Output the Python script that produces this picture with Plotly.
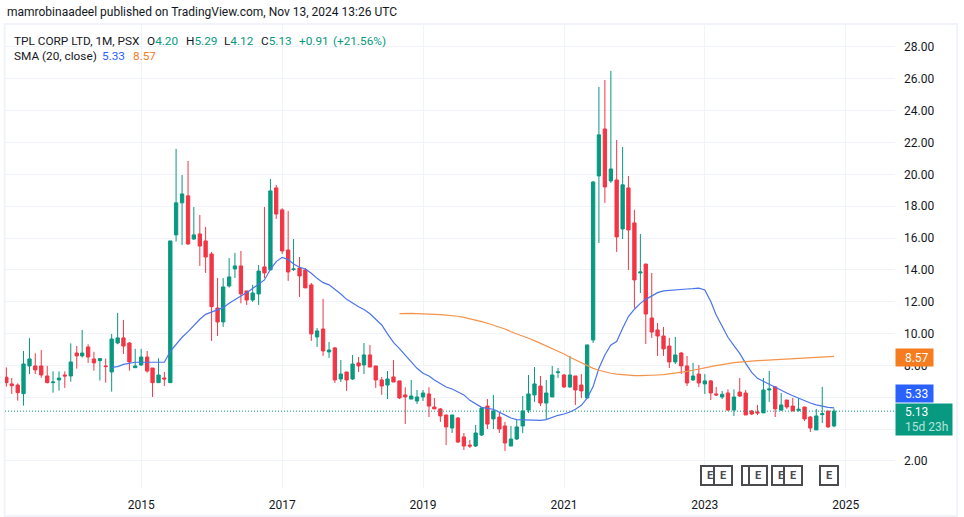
import pandas as pd
import plotly.graph_objects as go

GREEN = "#089981"
RED = "#F23645"
BLUE = "#2962FF"
ORANGE = "#F57C1F"
DARK = "#131722"
GRID = "#F0F3FA"
FONT = "Roboto"

first_month = "2013-02-01"

open_prices = [
    7.26, 6.84, 6.77, 6.23, 7.97, 7.97, 7.97, 7.34, 6.92, 7.09,
    7.40, 7.34, 8.78, 8.60, 9.16, 8.41, 8.30, 7.97, 7.59, 9.41,
    9.73, 9.41, 7.86, 8.03, 8.53, 7.84, 6.92, 7.21, 6.92, 16.20,
    18.21, 18.65, 15.94, 16.26, 15.82, 15.00, 11.61, 10.73, 12.99, 14.06,
    14.25, 12.68, 12.11, 12.49, 14.19, 14.00, 19.15, 17.77, 15.25, 14.02,
    14.12, 14.00, 13.06, 9.79, 10.29, 8.85, 9.10, 7.15, 7.59, 7.15,
    8.16, 8.03, 8.66, 7.97, 7.09, 6.77, 7.28, 7.03, 6.15, 5.89,
    5.77, 6.02, 6.21, 5.39, 5.27, 4.89, 4.07, 4.70, 3.51, 3.00,
    2.94, 3.63, 5.45, 4.64, 4.76, 4.20, 2.94, 3.38, 4.20, 5.20,
    6.15, 6.71, 5.64, 6.02, 7.55, 7.40, 6.65, 7.34, 6.77, 5.96,
    9.60, 19.90, 22.85, 19.59, 19.65, 16.57, 19.15, 16.95, 13.81, 14.37,
    10.98, 10.23, 9.85, 9.22, 8.22, 8.78, 7.97, 7.09, 7.46, 6.84,
    7.03, 6.21, 6.02, 6.27, 5.20, 6.33, 6.27, 5.14, 5.08, 5.02,
    6.46, 6.65, 5.20, 5.83, 5.45, 5.18, 5.39, 4.76, 3.95, 4.91,
    5.14, 4.20,
]
high_prices = [
    7.88, 7.21, 6.88, 8.91, 9.71, 8.76, 8.97, 7.97, 7.63, 7.63,
    7.63, 9.39, 9.22, 10.23, 9.33, 8.85, 8.45, 8.43, 9.98, 11.30,
    10.86, 9.47, 9.04, 9.04, 8.91, 7.84, 8.45, 7.59, 15.82, 21.60,
    19.96, 20.84, 17.95, 17.45, 16.70, 15.13, 13.49, 13.49, 14.75, 15.07,
    15.19, 12.68, 13.06, 14.31, 17.95, 19.71, 19.34, 17.87, 17.70, 15.94,
    14.81, 14.12, 13.18, 10.35, 12.18, 9.47, 9.16, 8.34, 7.59, 8.66,
    8.53, 9.41, 9.29, 7.97, 7.28, 7.65, 8.34, 7.03, 6.63, 7.09,
    6.46, 6.46, 6.63, 5.96, 5.33, 4.89, 4.89, 4.76, 3.76, 3.32,
    4.26, 5.39, 5.89, 6.15, 5.08, 4.45, 4.20, 4.58, 6.08, 7.40,
    7.90, 7.34, 7.09, 7.97, 7.84, 7.46, 8.60, 7.34, 7.46, 9.29,
    19.59, 25.49, 25.93, 26.50, 22.16, 21.72, 19.90, 17.77, 16.26, 14.37,
    13.81, 10.67, 10.42, 9.73, 9.79, 8.85, 8.60, 8.16, 8.03, 7.46,
    7.09, 6.65, 6.40, 6.50, 6.50, 7.21, 6.46, 5.20, 5.52, 7.21,
    7.65, 6.71, 6.27, 5.83, 5.96, 5.94, 5.39, 4.83, 5.27, 6.65,
    5.14, 5.29,
]
low_prices = [
    6.67, 6.21, 5.79, 5.48, 7.46, 7.46, 7.23, 6.88, 6.29, 6.42,
    6.59, 6.98, 7.80, 8.49, 8.16, 7.67, 7.05, 6.92, 6.36, 9.33,
    8.72, 7.67, 7.84, 7.97, 7.55, 6.02, 6.92, 6.71, 6.92, 15.78,
    15.57, 15.57, 15.88, 14.25, 13.81, 9.54, 9.85, 10.42, 12.89, 13.49,
    11.90, 11.80, 11.99, 11.80, 13.49, 14.00, 17.20, 15.00, 13.31, 13.93,
    12.30, 12.87, 9.54, 9.16, 8.60, 8.47, 6.90, 6.96, 6.40, 7.09,
    7.59, 7.46, 7.90, 6.59, 6.15, 5.89, 6.96, 5.89, 4.32, 5.89,
    5.58, 5.77, 4.76, 5.27, 4.45, 3.00, 3.76, 3.13, 2.69, 2.82,
    2.88, 3.57, 4.01, 4.01, 3.76, 2.63, 2.94, 3.32, 3.76, 5.02,
    5.71, 5.45, 4.58, 6.02, 7.21, 6.59, 6.59, 5.52, 5.96, 5.96,
    9.41, 15.69, 18.21, 19.46, 15.13, 15.94, 14.00, 11.61, 12.55, 9.35,
    9.73, 8.60, 8.60, 7.84, 8.09, 7.46, 6.71, 7.03, 6.65, 6.21,
    5.83, 6.08, 5.89, 5.14, 4.83, 6.02, 4.89, 4.89, 4.89, 5.02,
    5.71, 4.76, 5.14, 5.27, 5.14, 5.10, 4.51, 3.82, 3.95, 4.39,
    4.07, 4.12,
]
close_prices = [
    6.92, 6.73, 6.29, 8.09, 8.41, 7.72, 7.40, 6.92, 6.96, 7.21,
    7.34, 8.22, 8.60, 8.78, 8.53, 8.16, 8.43, 7.93, 9.66, 9.73,
    9.22, 8.22, 7.97, 8.53, 7.65, 6.92, 7.40, 7.15, 15.82, 18.21,
    18.77, 15.63, 16.20, 15.50, 14.81, 11.69, 10.73, 12.93, 13.56, 14.25,
    12.49, 12.11, 12.55, 13.93, 13.81, 18.96, 17.51, 15.19, 13.87, 14.06,
    13.62, 12.87, 9.98, 10.17, 8.91, 8.97, 7.09, 7.46, 7.09, 8.09,
    7.97, 8.66, 7.90, 7.09, 6.71, 7.15, 6.96, 5.96, 6.02, 6.08,
    6.02, 6.27, 5.45, 5.27, 4.83, 4.14, 4.89, 3.19, 2.94, 2.94,
    3.76, 5.33, 4.32, 5.14, 4.01, 3.13, 3.38, 4.14, 5.14, 6.21,
    6.84, 5.64, 6.27, 7.40, 7.59, 6.65, 7.40, 6.46, 6.40, 9.29,
    19.52, 22.48, 19.21, 20.34, 16.07, 19.34, 16.51, 13.37, 13.87, 11.23,
    10.10, 9.85, 9.04, 8.22, 8.66, 7.97, 6.90, 7.34, 6.90, 7.03,
    6.27, 6.15, 6.19, 5.20, 6.02, 6.08, 4.89, 4.95, 5.02, 6.46,
    6.52, 5.27, 5.52, 5.39, 5.14, 5.25, 4.64, 4.07, 4.83, 4.97,
    4.14, 5.13,
]
sma_short = [
    7.88, 7.93, 8.07, 8.13, 8.20, 8.20, 8.20, 8.18, 8.18, 8.20, 8.89,
    9.35, 9.77, 10.12, 10.52, 10.90, 11.21, 11.36, 11.51, 11.63, 11.90,
    12.15, 12.36, 12.57, 12.85, 13.12, 13.37, 14.04, 14.52, 14.79, 14.65,
    14.37, 14.17, 14.06, 13.79, 13.47, 13.20, 13.06, 12.80, 12.49, 12.15,
    11.90, 11.69, 11.51, 11.25, 10.90, 10.54, 9.98, 9.45, 9.06, 8.66,
    8.24, 7.82, 7.51, 7.34, 7.09, 6.84, 6.65, 6.52, 6.36, 6.15,
    5.81, 5.58, 5.37, 5.31, 5.25, 5.06, 4.87, 4.70, 4.60, 4.58,
    4.58, 4.58, 4.55, 4.60, 4.76, 4.87, 4.95, 5.08, 5.25, 5.50,
    5.94, 6.67, 7.82, 8.66, 9.29, 9.50, 10.33, 11.07, 11.53, 11.90,
    12.15, 12.38, 12.57, 12.68, 12.72, 12.76, 12.78, 12.80, 12.82, 12.85,
    12.74, 12.01, 11.17, 10.44, 9.77, 9.24, 8.76, 8.13, 7.57, 7.19,
    7.00, 6.79, 6.61, 6.42, 6.27, 6.10, 5.94, 5.79, 5.64, 5.52,
    5.42, 5.37, 5.33,
]
sma_long = [
    11.25, 11.27, 11.27, 11.25, 11.25, 11.23, 11.21, 11.19, 11.17, 11.13,
    11.09, 11.02, 10.94, 10.86, 10.75, 10.65, 10.54, 10.42, 10.29, 10.12,
    10.00, 9.85, 9.71, 9.56, 9.39, 9.24, 9.10, 8.91, 8.72, 8.51,
    8.34, 8.18, 7.97, 7.82, 7.70, 7.59, 7.51, 7.46, 7.42, 7.38,
    7.36, 7.36, 7.36, 7.38, 7.40, 7.42, 7.46, 7.51, 7.55, 7.63,
    7.70, 7.76, 7.84, 7.93, 7.99, 8.03, 8.11, 8.18, 8.22, 8.26,
    8.28, 8.30, 8.32, 8.34, 8.39, 8.41, 8.43, 8.45, 8.47, 8.49,
    8.51, 8.53, 8.55, 8.56, 8.57,
]
earnings_dates = ["2023-01-28", "2023-04-03", "2023-08-29", "2023-10-02",
                  "2024-01-31", "2024-03-31", "2024-10-04"]
year_ticks = ["2015-01-01", "2017-01-01", "2019-01-01", "2021-01-01",
              "2023-01-01", "2025-01-01"]
year_labels = ["2015", "2017", "2019", "2021", "2023", "2025"]

months = pd.date_range(first_month, periods=len(close_prices), freq="MS")

fig = go.Figure()
fig.add_trace(go.Candlestick(
    x=months, open=open_prices, high=high_prices, low=low_prices, close=close_prices,
    increasing=dict(line=dict(color=GREEN, width=1), fillcolor=GREEN),
    decreasing=dict(line=dict(color=RED, width=1), fillcolor=RED),
    whiskerwidth=0,
))
fig.add_trace(go.Scatter(x=months[-len(sma_short):], y=sma_short, mode="lines",
                         line=dict(color="#4A74EA", width=1.2)))
fig.add_trace(go.Scatter(x=months[-len(sma_long):], y=sma_long, mode="lines",
                         line=dict(color="#F4934A", width=1.2)))
fig.add_hline(y=close_prices[-1], line=dict(color=GREEN, width=1, dash="1px,2px"))

# chart frame, in paper units of the 890x463 plot area
fig.add_shape(type="rect", xref="paper", yref="paper", x0=-0.0005, x1=1.0697, y0=-0.0605, y1=1.002,
              line=dict(color=GRID, width=2), layer="below")


def label(x, y, text, color=DARK, size=11.8, **kw):
    fig.add_annotation(xref="paper", yref="paper", x=x, y=y, text=text, showarrow=False,
                       xanchor="left", yanchor="middle", borderpad=0,
                       font=dict(family=FONT, size=size, color=color), **kw)


label(0.0012, 1.0275, "mamrobinaadeel published on TradingView.com, Nov 13, 2024 13:26 UTC", size=12)

# legend rows
row1 = 0.9665
row2 = 0.9325
for x_pos, head, value in [(0.0090, "TPL CORP LTD, 1M, PSX", ""), (0.1585, "O", "4.20"), (0.2017, "H", "5.29"),
                           (0.2450, "L", "4.12"), (0.2860, "C", "5.13")]:
    label(x_pos, row1, f'{head}<span style="color:{GREEN}">{value}</span>')
label(0.3290, row1, "+0.91", color=GREEN)
label(0.3670, row1, "(+21.56%)", color=GREEN)
label(0.0090, row2, "SMA (20, close)")
label(0.1080, row2, "5.33", color=BLUE)
label(0.1425, row2, "8.57", color=ORANGE)

# last value boxes on the price scale
def price_box(price, text, color, width, height, yshift):
    fig.add_annotation(xref="paper", yref="y", x=1, y=price, text=text, showarrow=False,
                       xanchor="left", yanchor="middle", align="left", xshift=0, yshift=yshift,
                       width=width, height=height, bgcolor=color, borderpad=0,
                       font=dict(family=FONT, size=12, color="white"))


pad = "\u00a0\u00a0\u00a0"
price_box(sma_long[-1], pad + "8.57", ORANGE, 37, 17, -1)
price_box(sma_short[-1], pad + "5.33", BLUE, 37, 17, 14)
price_box(close_prices[-1], f'{pad}5.13<br>{pad}<span style="color:#B5E3D9">15d 23h</span>', GREEN, 56, 31, -8)

# earnings flags
for day in earnings_dates:
    fig.add_annotation(xref="x", yref="paper", x=day, y=0.026, yanchor="middle", text="<b>E</b>", showarrow=False,
                       width=16, height=17, borderwidth=2, borderpad=0, bordercolor="#4A4A4F", bgcolor="white",
                       font=dict(family=FONT, size=11, color="#4A4A4F"))

fig.update_layout(
    width=964, height=517, autosize=False,
    margin=dict(l=5, r=69, t=25, b=29),
    paper_bgcolor="white", plot_bgcolor="white",
    showlegend=False,
    boxgap=0.12,
    font=dict(family=FONT, size=12, color=DARK),
    xaxis=dict(type="date", range=["2013-01-25", "2025-09-13"], rangeslider=dict(visible=False),
               tickmode="array", tickvals=year_ticks, ticktext=year_labels,
               showgrid=True, gridcolor=GRID, gridwidth=1, zeroline=False, showline=False,
               ticks="", ticklabelstandoff=8),
    yaxis=dict(side="right", range=[0.304, 29.38], dtick=2, tick0=0, tickformat=".2f",
               showgrid=True, gridcolor=GRID, gridwidth=1, zeroline=False, showline=False,
               ticks="", ticklabelstandoff=8),
)

fig.write_html("out.html", config=dict(displayModeBar=False),
               post_script="document.body.style.margin='0'")
